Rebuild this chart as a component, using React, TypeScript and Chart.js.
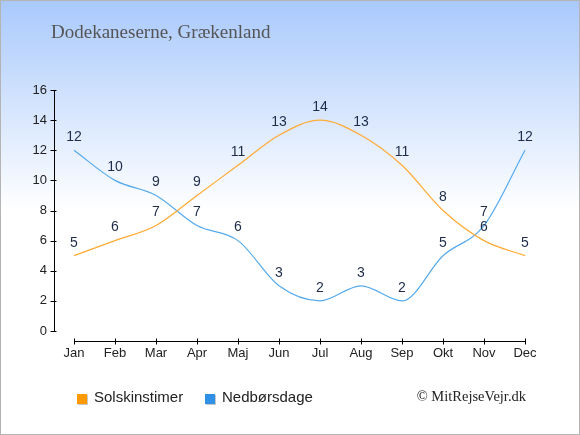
import React, { useEffect, useRef } from "react";
import { Chart, registerables } from "chart.js";

Chart.register(...registerables);

const months = ["Jan", "Feb", "Mar", "Apr", "Maj", "Jun", "Jul", "Aug", "Sep", "Okt", "Nov", "Dec"];
const sunHours = [5, 6, 7, 9, 11, 13, 14, 13, 11, 8, 6, 5];
const rainDays = [12, 10, 9, 7, 6, 3, 2, 3, 2, 5, 7, 12];
const yTicks = [0, 2, 4, 6, 8, 10, 12, 14, 16];

const SANS = "'Liberation Sans', Arial, sans-serif";
const SERIF = "'Liberation Serif', 'Times New Roman', serif";

// background, axes, labels, legend - all painted by hand around the chart area
const decorPlugin = {
  id: "decor",
  beforeDraw(chart: any) {
    const { ctx, width, height } = chart;
    ctx.save();
    const g = ctx.createLinearGradient(0, 0, 0, 210);
    g.addColorStop(0, "#a9c9fc");
    g.addColorStop(1, "#ffffff");
    ctx.fillStyle = g;
    ctx.fillRect(0, 0, width, height);
    ctx.strokeStyle = "#b4b4b4";
    ctx.lineWidth = 1;
    ctx.strokeRect(0.5, 0.5, width - 1, height - 1);
    ctx.restore();
  },
  afterDraw(chart: any) {
    const { ctx } = chart;
    const x = chart.scales.x;
    const y = chart.scales.y;
    const axisX = 54.5;
    const axisY = 341.5;
    ctx.save();
    ctx.strokeStyle = "#000";
    ctx.lineWidth = 1;

    // y axis
    ctx.beginPath();
    ctx.moveTo(axisX, y.getPixelForValue(16));
    ctx.lineTo(axisX, y.getPixelForValue(0));
    yTicks.forEach((t) => {
      const py = Math.round(y.getPixelForValue(t)) + 0.5;
      ctx.moveTo(axisX - 4, py);
      ctx.lineTo(axisX + 2, py);
    });
    // x axis
    ctx.moveTo(x.getPixelForValue(0), axisY);
    ctx.lineTo(x.getPixelForValue(months.length - 1), axisY);
    months.forEach((_, i) => {
      const px = Math.round(x.getPixelForValue(i)) + 0.5;
      ctx.moveTo(px, axisY - 3);
      ctx.lineTo(px, axisY + 3);
    });
    ctx.stroke();

    ctx.fillStyle = "#222";
    ctx.font = `13px ${SANS}`;
    ctx.textAlign = "right";
    ctx.textBaseline = "middle";
    yTicks.forEach((t) => ctx.fillText(String(t), 47, y.getPixelForValue(t)));
    ctx.textAlign = "center";
    months.forEach((m, i) => ctx.fillText(m, x.getPixelForValue(i), 353));

    // title
    ctx.fillStyle = "#555";
    ctx.font = `19px ${SERIF}`;
    ctx.textAlign = "left";
    ctx.fillText("Dodekaneserne, Grækenland", 51, 33);

    // legend
    const items = [
      { label: "Solskinstimer", color: "#ff9900", x: 77 },
      { label: "Nedbørsdage", color: "#3090e6", x: 205 },
    ];
    ctx.font = `15px ${SANS}`;
    items.forEach((it) => {
      ctx.fillStyle = "#c8c8c8";
      ctx.fillRect(it.x + 1, 395, 10, 10);
      ctx.fillStyle = it.color;
      ctx.fillRect(it.x, 394, 10, 10);
      ctx.fillStyle = "#222";
      ctx.fillText(it.label, it.x + 17, 398);
    });

    // copyright
    ctx.fillStyle = "#222";
    ctx.font = `14.5px ${SERIF}`;
    ctx.textAlign = "right";
    ctx.fillText("© MitRejseVejr.dk", 526, 397);
    ctx.restore();
  },
  afterDatasetsDraw(chart: any) {
    const { ctx } = chart;
    ctx.save();
    ctx.fillStyle = "#1e2c4a";
    ctx.font = `14px ${SANS}`;
    ctx.textAlign = "center";
    ctx.textBaseline = "middle";
    chart.data.datasets.forEach((ds: any, di: number) => {
      chart.getDatasetMeta(di).data.forEach((pt: any, i: number) => {
        ctx.fillText(String(ds.data[i]), pt.x, pt.y - 13);
      });
    });
    ctx.restore();
  },
};

const ClimateChart = () => {
  const canvasRef = useRef<HTMLCanvasElement>(null);
  const chartRef = useRef<Chart | null>(null);

  useEffect(() => {
    if (!canvasRef.current) return;
    if (chartRef.current) chartRef.current.destroy();

    chartRef.current = new Chart(canvasRef.current, {
      type: "line",
      data: {
        labels: months,
        datasets: [
          {
            label: "Solskinstimer",
            data: sunHours,
            borderColor: "#ffaa33",
            borderWidth: 1.2,
            pointRadius: 0,
            cubicInterpolationMode: "monotone",
            clip: false,
          },
          {
            label: "Nedbørsdage",
            data: rainDays,
            borderColor: "#55aaee",
            borderWidth: 1.2,
            pointRadius: 0,
            cubicInterpolationMode: "monotone",
            clip: false,
          },
        ],
      },
      options: {
        responsive: false,
        animation: false,
        layout: { padding: { left: 74, right: 55, top: 90, bottom: 104 } },
        scales: {
          x: { display: false, offset: false },
          y: { display: false, min: 0, max: 16 },
        },
        plugins: {
          legend: { display: false },
          tooltip: { enabled: false },
        },
      },
      plugins: [decorPlugin],
    });

    return () => {
      if (chartRef.current) {
        chartRef.current.destroy();
        chartRef.current = null;
      }
    };
  }, []);

  return (
    <div style={{ position: "absolute", left: 0, top: 0, width: 580, height: 435 }}>
      <canvas ref={canvasRef} width={580} height={435} />
    </div>
  );
};

export default function App() {
  return <ClimateChart />;
}
